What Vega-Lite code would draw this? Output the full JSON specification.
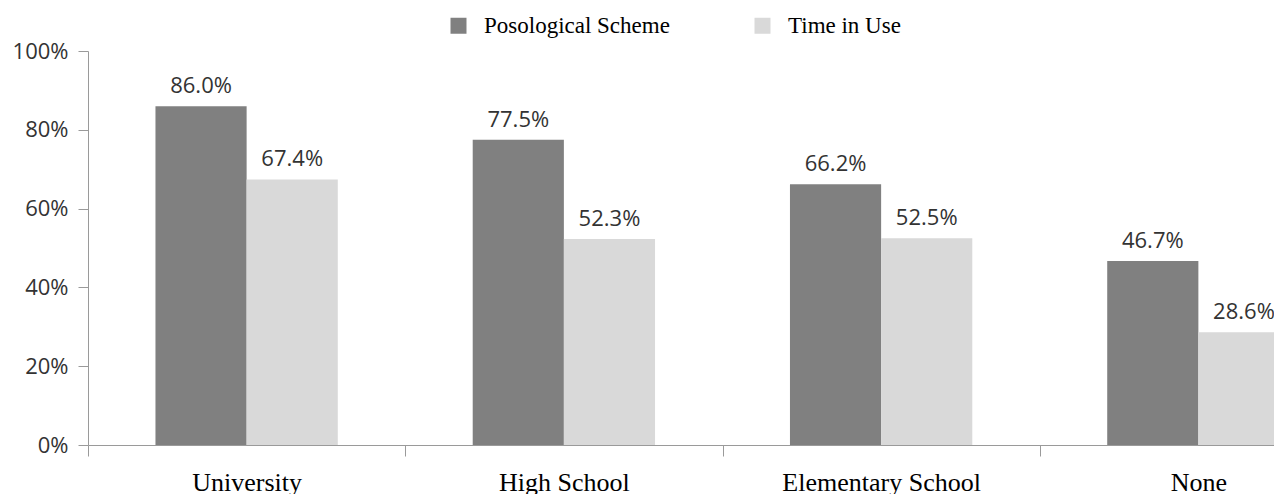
{
  "$schema": "https://vega.github.io/schema/vega-lite/v6.json",
  "width": 1186,
  "height": 394,
  "autosize": {"type": "none"},
  "padding": {"left": 88, "top": 51, "right": 0, "bottom": 49},
  "background": "white",
  "config": {"view": {"stroke": null}},
  "data": {
    "values": [
      {"education": "University", "measure": "Posological Scheme", "share": 0.860},
      {"education": "University", "measure": "Time in Use", "share": 0.674},
      {"education": "High School", "measure": "Posological Scheme", "share": 0.775},
      {"education": "High School", "measure": "Time in Use", "share": 0.523},
      {"education": "Elementary School", "measure": "Posological Scheme", "share": 0.662},
      {"education": "Elementary School", "measure": "Time in Use", "share": 0.525},
      {"education": "None", "measure": "Posological Scheme", "share": 0.467},
      {"education": "None", "measure": "Time in Use", "share": 0.286}
    ]
  },
  "encoding": {
    "x": {
      "field": "education",
      "type": "nominal",
      "sort": ["University", "High School", "Elementary School", "None"],
      "scale": {"range": [0, 1269], "paddingInner": 0, "paddingOuter": 0},
      "axis": {
        "title": null,
        "labelAngle": 0,
        "labelLimit": 0,
        "tickBand": "extent",
        "domainColor": "#9a9a9a",
        "tickColor": "#9a9a9a",
        "tickSize": 11,
        "labelPadding": 13,
        "labelFont": "Liberation Serif",
        "labelFontSize": 26,
        "labelColor": "#000000"
      }
    },
    "xOffset": {
      "field": "measure",
      "type": "nominal",
      "scale": {"paddingInner": 0, "paddingOuter": 0.74}
    },
    "y": {
      "field": "share",
      "type": "quantitative",
      "scale": {"domain": [0, 1]},
      "axis": {
        "title": null,
        "format": ".0%",
        "values": [0, 0.2, 0.4, 0.6, 0.8, 1],
        "grid": false,
        "domainColor": "#9a9a9a",
        "tickColor": "#9a9a9a",
        "tickSize": 10,
        "labelPadding": 10,
        "labelFont": "Open Sans",
        "labelFontSize": 22,
        "labelColor": "#333333"
      }
    }
  },
  "layer": [
    {
      "mark": {"type": "bar", "clip": true},
      "encoding": {
        "color": {
          "field": "measure",
          "type": "nominal",
          "scale": {"domain": ["Posological Scheme", "Time in Use"], "range": ["#808080", "#d9d9d9"]},
          "legend": {
            "title": null,
            "orient": "none",
            "direction": "horizontal",
            "legendX": 359,
            "legendY": -37,
            "symbolType": "square",
            "symbolSize": 256,
            "symbolStrokeWidth": 0,
            "labelOffset": 14,
            "labelLimit": 0,
            "columnPadding": 81,
            "labelFont": "Liberation Serif",
            "labelFontSize": 23,
            "labelColor": "#000000"
          }
        }
      }
    },
    {
      "mark": {"type": "text", "dy": -13, "baseline": "alphabetic", "font": "Open Sans", "fontSize": 22, "color": "#333333", "clip": false},
      "encoding": {
        "text": {"field": "share", "type": "quantitative", "format": ".1%"}
      }
    }
  ]
}
